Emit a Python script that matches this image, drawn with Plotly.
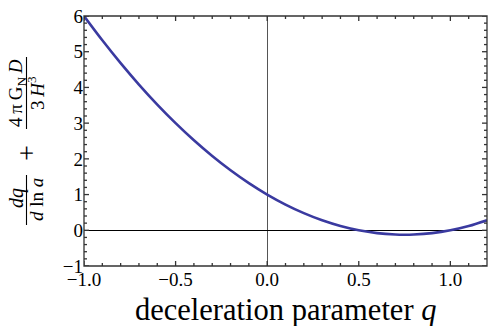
import plotly.graph_objects as go

# values
q_vals = [-1.0, -0.9, -0.8, -0.7, -0.6, -0.5, -0.4, -0.3, -0.2, -0.1, 0.0,
          0.1, 0.2, 0.3, 0.4, 0.5, 0.6, 0.7, 0.75, 0.8, 0.9, 1.0, 1.1, 1.2]
y_vals = [6.0, 5.32, 4.68, 4.08, 3.52, 3.0, 2.52, 2.08, 1.68, 1.32, 1.0,
          0.72, 0.48, 0.28, 0.12, 0.0, -0.08, -0.12, -0.125, -0.12, -0.08, 0.0, 0.12, 0.28]

x_tickvals = [-1.0, -0.5, 0.0, 0.5, 1.0]
x_ticktext = ["\u22121.0", "\u22120.5", "0.0", "0.5", "1.0"]
y_tickvals = [-1, 0, 1, 2, 3, 4, 5, 6]
y_ticktext = ["\u22121", "0", "1", "2", "3", "4", "5", "6"]
x_minor = [-0.9, -0.8, -0.7, -0.6, -0.4, -0.3, -0.2, -0.1, 0.1, 0.2, 0.3, 0.4, 0.6, 0.7, 0.8, 0.9, 1.1]
y_minor = [-0.8, -0.6, -0.4, -0.2, 0.2, 0.4, 0.6, 0.8, 1.2, 1.4, 1.6, 1.8, 2.2, 2.4, 2.6, 2.8,
           3.2, 3.4, 3.6, 3.8, 4.2, 4.4, 4.6, 4.8, 5.2, 5.4, 5.6, 5.8]

W, H = 488, 326
L, R, T, B = 84, 1, 16, 60
pw, ph = W - L - R, H - T - B

def px(x):
    return (x - L) / pw

def py(y):
    return (H - B - y) / ph

FONT = "Liberation Serif, Times New Roman, serif"
FRAME = "#333"
LW = 1.3

fig = go.Figure()
fig.add_trace(go.Scatter(x=q_vals, y=y_vals, mode="lines",
                         line=dict(color="#3a3aa0", width=2.6, shape="spline"),
                         hoverinfo="skip", cliponaxis=False))

tf = dict(family=FONT, size=19, color="black")
fig.update_xaxes(range=[-1.0, 1.2], tickmode="array", tickvals=x_tickvals, ticktext=x_ticktext,
                 tickfont=tf, ticks="", showline=False, showgrid=False,
                 zeroline=True, zerolinecolor="#555", zerolinewidth=1.2)
fig.update_yaxes(range=[-1, 6], tickmode="array", tickvals=y_tickvals, ticktext=y_ticktext,
                 tickfont=tf, ticks="", showline=False, showgrid=False,
                 zeroline=True, zerolinecolor="black", zerolinewidth=1.2)

shapes = []
# frame
shapes.append(dict(type="rect", xref="paper", yref="paper", x0=0, x1=1, y0=0, y1=1,
                   line=dict(color=FRAME, width=LW), layer="above"))
# ticks on all four sides
def xtick(v, length):
    for y0, y1 in ((0, length / ph), (1, 1 - length / ph)):
        shapes.append(dict(type="line", xref="x", yref="paper", x0=v, x1=v, y0=y0, y1=y1,
                           line=dict(color=FRAME, width=LW), layer="above"))

def ytick(v, length):
    for x0, x1 in ((0, length / pw), (1, 1 - length / pw)):
        shapes.append(dict(type="line", xref="paper", yref="y", x0=x0, x1=x1, y0=v, y1=v,
                           line=dict(color=FRAME, width=LW), layer="above"))

for v in x_tickvals:
    xtick(v, 5)
for v in x_minor:
    xtick(v, 3)
for v in y_tickvals:
    ytick(v, 5)
for v in y_minor:
    ytick(v, 3)

# fraction bars of the y-axis title
shapes.append(dict(type="line", xref="paper", yref="paper", x0=px(26.5), x1=px(26.5),
                   y0=py(175), y1=py(225), line=dict(color="black", width=1.1)))
shapes.append(dict(type="line", xref="paper", yref="paper", x0=px(26.5), x1=px(26.5),
                   y0=py(57), y1=py(129), line=dict(color="black", width=1.1)))

ann = []
def add(text, x, y, size=19, angle=-90):
    ann.append(dict(text=text, x=px(x), y=py(y), xref="paper", yref="paper",
                    xanchor="center", yanchor="middle", showarrow=False, textangle=angle,
                    font=dict(family=FONT, size=size, color="black")))

# y-axis title built from pieces (rotated)
add("<i>dq</i>", 16, 198, size=20)
add("<i>d</i> ln <i>a</i>", 36, 200)
add("+", 26, 153, size=28)
add("4\u2009\u03c0\u2009G<sub>N</sub>\u2009<i>D</i>", 17, 93)
add("3\u2009<i>H</i><sup>3</sup>", 36, 93)

# x-axis title
add("deceleration parameter <i>q</i>", 285, 310, size=30.5, angle=0)

fig.update_layout(width=W, height=H, margin=dict(l=L, r=R, t=T, b=B),
                  paper_bgcolor="white", plot_bgcolor="white", showlegend=False,
                  annotations=ann, shapes=shapes)

fig.write_html("out.html", config={"displayModeBar": False},
               post_script="document.body.style.margin='0px';")
